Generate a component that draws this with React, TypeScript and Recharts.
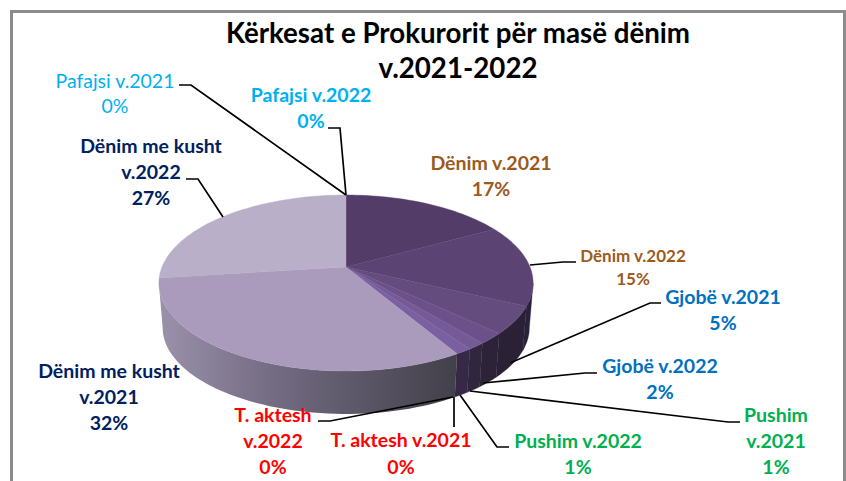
import { PieChart, Pie } from "recharts";

const sliceNames = [
  "Dënim v.2021",
  "Dënim v.2022",
  "Gjobë v.2021",
  "Gjobë v.2022",
  "Pushim v.2021",
  "Pushim v.2022",
  "T. aktesh v.2021",
  "T. aktesh v.2022",
  "Dënim me kusht v.2021",
  "Dënim me kusht v.2022",
  "Pafajsi v.2021",
  "Pafajsi v.2022",
];
const sliceValues = [17, 15, 5, 2, 1.3, 1.2, 0, 0, 31.5, 27, 0, 0];
const titleLines = ["Kërkesat e Prokurorit për masë dënim", "v.2021-2022"];

const chartData = sliceNames.map((name, i) => ({ name, value: sliceValues[i] }));

const topColors = [
  "#533d68", "#5b4474", "#644c7f", "#6c508a", "#745a96", "#7a60a0",
  "#7a60a0", "#7a60a0", "#aa9bbc", "#b9afc8", "#b9afc8", "#b9afc8",
];
const sideColors = [
  "#241c30", "#2a213a", "#2a2137", "#2c2339", "#30263e", "#352945",
  "#352945", "#352945", "url(#kushtSide)", "#9a8fa8", "#9a8fa8", "#9a8fa8",
];

// label text: centre x, first baseline, line step, size, weight, colour
const labelStyle = [
  { lines: ["Dënim v.2021"], x: 491, y: 170, step: 26, size: 19.5, weight: 700, color: "#9c5a1c" },
  { lines: ["Dënim v.2022"], x: 633, y: 262, step: 23, size: 17, weight: 700, color: "#9c5a1c" },
  { lines: ["Gjobë v.2021"], x: 723, y: 304, step: 26, size: 19.5, weight: 700, color: "#0070c0" },
  { lines: ["Gjobë v.2022"], x: 660, y: 373, step: 26, size: 19.5, weight: 700, color: "#0070c0" },
  { lines: ["Pushim", "v.2021"], x: 776, y: 422, step: 26, size: 19.5, weight: 700, color: "#00b050" },
  { lines: ["Pushim v.2022"], x: 578, y: 448, step: 26, size: 19.5, weight: 700, color: "#00b050" },
  { lines: ["T. aktesh v.2021"], x: 401, y: 447, step: 27, size: 19.5, weight: 700, color: "#ff0000" },
  { lines: ["T. aktesh", "v.2022"], x: 273, y: 422, step: 26, size: 19.5, weight: 700, color: "#ff0000" },
  { lines: ["Dënim me kusht", "v.2021"], x: 109, y: 378, step: 26, size: 19.5, weight: 700, color: "#002060" },
  { lines: ["Dënim me kusht", "v.2022"], x: 151, y: 153, step: 26, size: 19.5, weight: 700, color: "#002060" },
  { lines: ["Pafajsi v.2021"], x: 115, y: 88, step: 25, size: 19.5, weight: 400, color: "#00b0f0" },
  { lines: ["Pafajsi v.2022"], x: 311, y: 102, step: 26, size: 19.5, weight: 700, color: "#00b0f0" },
];

const leaders: (string | null)[] = [
  null,
  "576,262 563,262 530,265",
  "661,303 650,303 510,363",
  "597,373 585,373 483,383",
  "740,422 728,422 470,391",
  "509,447 497,447 460,395",
  "454,427 454,397",
  "318,421 330,421 453,397",
  null,
  "186,179 198,179 223,217",
  "179,85 191,85 346,195",
  "328,128 340,128 346,195",
];

const FONT = "Lato, Carlito, sans-serif";
const TILT = 0.1818; // perspective of the disc
const SQUASH = 0.4625; // minor/major axis
const DEPTH = 45;
const BOTTOM_SCALE = 0.98;

function project(cx: number, cy: number, r: number, theta: number, scale = 1, dy = 0) {
  const t = (theta * Math.PI) / 180;
  const w = 1 + TILT * Math.cos(t);
  return [
    cx + (scale * r * Math.sin(t)) / w,
    cy + dy - (scale * r * SQUASH * Math.cos(t)) / w,
  ];
}

function arcPoints(cx: number, cy: number, r: number, from: number, to: number, scale = 1, dy = 0) {
  const n = Math.max(2, Math.ceil(Math.abs(to - from) / 2));
  const pts: number[][] = [];
  for (let i = 0; i <= n; i++) {
    pts.push(project(cx, cy, r, from + ((to - from) * i) / n, scale, dy));
  }
  return pts;
}

const toPath = (pts: number[][]) =>
  "M" + pts.map((p) => p[0].toFixed(2) + "," + p[1].toFixed(2)).join("L") + "Z";

// sector drawn as a tilted disc with a rim
function DiscSlice(props: any) {
  const { cx, cy, outerRadius, startAngle, endAngle, name } = props;
  const i = sliceNames.indexOf(name);
  const from = 90 - startAngle;
  const to = 90 - endAngle;
  if (Math.abs(to - from) < 0.01) return null;
  const top = topColors[i];
  const rimFrom = Math.max(from, 100.5);
  const rimTo = Math.min(to, 259.5);
  return (
    <g>
      {rimTo > rimFrom && (
        <path
          d={toPath([
            ...arcPoints(cx, cy, outerRadius, rimFrom, rimTo),
            ...arcPoints(cx, cy, outerRadius, rimTo, rimFrom, BOTTOM_SCALE, DEPTH),
          ])}
          fill={sideColors[i]}
          stroke={i === 8 ? "none" : sideColors[i]}
          strokeWidth={0.3}
        />
      )}
      <path
        d={toPath([[cx, cy], ...arcPoints(cx, cy, outerRadius, from, to)])}
        fill={top}
        stroke={top}
        strokeWidth={0.4}
      />
    </g>
  );
}

function SliceLabel(props: any) {
  const { index, value } = props;
  const s = labelStyle[index];
  const line = leaders[index];
  const rows = [...s.lines, `${Math.round(value)}%`];
  return (
    <g>
      {line && <polyline points={line} fill="none" stroke="#000" strokeWidth={1.7} />}
      <text
        x={s.x}
        y={s.y}
        textAnchor="middle"
        fontFamily={FONT}
        fontSize={s.size}
        fontWeight={s.weight}
        fill={s.color}
      >
        {rows.map((r, k) => (
          <tspan key={k} x={s.x} y={s.y + k * s.step}>
            {r}
          </tspan>
        ))}
      </text>
    </g>
  );
}

export default function App() {
  return (
    <div style={{ position: "absolute", left: 0, top: 0, width: 846, height: 481, overflow: "hidden", background: "#fff" }}>
      <div
        style={{
          position: "absolute",
          left: 10,
          top: 10,
          width: 830,
          height: 520,
          border: "3px solid #8c8c8c",
        }}
      />
      <div style={{ position: "absolute", left: 0, top: 0 }}>
        <PieChart width={846} height={481} margin={{ top: 0, right: 0, bottom: 0, left: 0 }}>
          <defs>
            <linearGradient id="kushtSide" x1="0" y1="0" x2="1" y2="0">
              <stop offset="0%" stopColor="#9b91ab" />
              <stop offset="40%" stopColor="#726a81" />
              <stop offset="100%" stopColor="#42404a" />
            </linearGradient>
          </defs>
          <Pie
            data={chartData}
            dataKey="value"
            nameKey="name"
            cx={346}
            cy={267}
            outerRadius={184}
            startAngle={90}
            endAngle={-270}
            stroke="none"
            isAnimationActive={false}
            shape={DiscSlice}
            label={SliceLabel}
            labelLine={false}
          />
          <text textAnchor="middle" fontFamily={FONT} fontSize={27.7} fontWeight={700} fill="#000">
            <tspan x={458} y={43}>{titleLines[0]}</tspan>
            <tspan x={458} y={78}>{titleLines[1]}</tspan>
          </text>
        </PieChart>
      </div>
    </div>
  );
}
